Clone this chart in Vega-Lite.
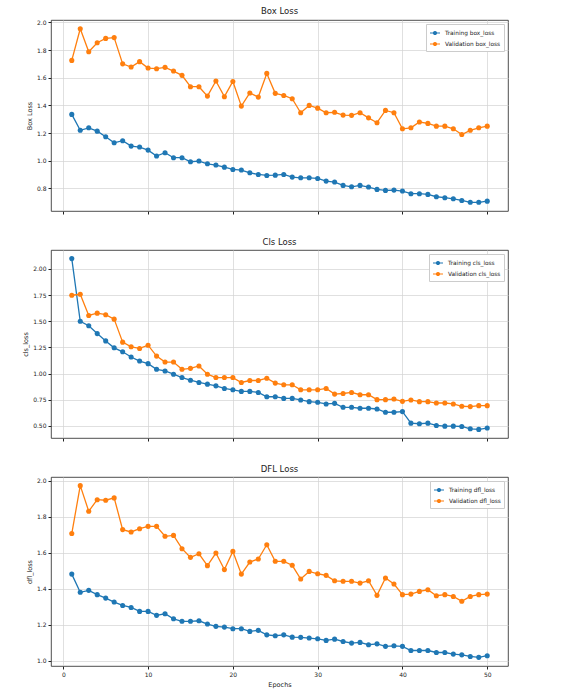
{
  "$schema": "https://vega.github.io/schema/vega-lite/v6.json",
  "background": "white",
  "padding": {"left": 22, "top": 6, "right": 4, "bottom": 4},
  "spacing": 22,
  "config": {
    "font": "DejaVu Sans",
    "view": {"stroke": "#222", "strokeWidth": 0.8},
    "axis": {"gridColor": "#d3d3d3", "gridWidth": 0.7, "labelFontSize": 6, "titleFontSize": 6.5, "titleFontWeight": "normal", "tickColor": "#222", "tickSize": 3, "domain": false, "labelColor": "#222", "titleColor": "#222", "labelPadding": 2, "titlePadding": 4},
    "title": {"fontSize": 8.5, "fontWeight": "normal", "color": "#222", "offset": 4},
    "legend": {"orient": "top-right", "offset": 4, "fillColor": "white", "strokeColor": "#ccc", "padding": 3, "labelFontSize": 5.8, "symbolType": "M-1,0H1M0.3,0A0.3,0.3,0,1,1,-0.3,0A0.3,0.3,0,1,1,0.3,0", "symbolSize": 100, "symbolStrokeWidth": 1.2, "rowPadding": 1, "title": null, "labelColor": "#222"}
  },
  "resolve": {"scale": {"color": "independent"}},
  "datasets": {
    "box": [
      {"epoch":1,"Training box_loss":1.335,"Validation box_loss":1.725},
      {"epoch":2,"Training box_loss":1.22,"Validation box_loss":1.954},
      {"epoch":3,"Training box_loss":1.238,"Validation box_loss":1.788},
      {"epoch":4,"Training box_loss":1.214,"Validation box_loss":1.853},
      {"epoch":5,"Training box_loss":1.173,"Validation box_loss":1.884},
      {"epoch":6,"Training box_loss":1.13,"Validation box_loss":1.89},
      {"epoch":7,"Training box_loss":1.145,"Validation box_loss":1.70},
      {"epoch":8,"Training box_loss":1.106,"Validation box_loss":1.677},
      {"epoch":9,"Training box_loss":1.099,"Validation box_loss":1.716},
      {"epoch":10,"Training box_loss":1.077,"Validation box_loss":1.67},
      {"epoch":11,"Training box_loss":1.034,"Validation box_loss":1.665},
      {"epoch":12,"Training box_loss":1.058,"Validation box_loss":1.675},
      {"epoch":13,"Training box_loss":1.022,"Validation box_loss":1.648},
      {"epoch":14,"Training box_loss":1.022,"Validation box_loss":1.617},
      {"epoch":15,"Training box_loss":0.993,"Validation box_loss":1.535},
      {"epoch":16,"Training box_loss":0.998,"Validation box_loss":1.535},
      {"epoch":17,"Training box_loss":0.978,"Validation box_loss":1.467},
      {"epoch":18,"Training box_loss":0.969,"Validation box_loss":1.576},
      {"epoch":19,"Training box_loss":0.954,"Validation box_loss":1.463},
      {"epoch":20,"Training box_loss":0.937,"Validation box_loss":1.573},
      {"epoch":21,"Training box_loss":0.933,"Validation box_loss":1.395},
      {"epoch":22,"Training box_loss":0.913,"Validation box_loss":1.49},
      {"epoch":23,"Training box_loss":0.901,"Validation box_loss":1.46},
      {"epoch":24,"Training box_loss":0.894,"Validation box_loss":1.631},
      {"epoch":25,"Training box_loss":0.896,"Validation box_loss":1.487},
      {"epoch":26,"Training box_loss":0.901,"Validation box_loss":1.472},
      {"epoch":27,"Training box_loss":0.882,"Validation box_loss":1.448},
      {"epoch":28,"Training box_loss":0.877,"Validation box_loss":1.347},
      {"epoch":29,"Training box_loss":0.877,"Validation box_loss":1.40},
      {"epoch":30,"Training box_loss":0.872,"Validation box_loss":1.38},
      {"epoch":31,"Training box_loss":0.853,"Validation box_loss":1.347},
      {"epoch":32,"Training box_loss":0.846,"Validation box_loss":1.35},
      {"epoch":33,"Training box_loss":0.822,"Validation box_loss":1.33},
      {"epoch":34,"Training box_loss":0.812,"Validation box_loss":1.328},
      {"epoch":35,"Training box_loss":0.822,"Validation box_loss":1.347},
      {"epoch":36,"Training box_loss":0.81,"Validation box_loss":1.31},
      {"epoch":37,"Training box_loss":0.793,"Validation box_loss":1.275},
      {"epoch":38,"Training box_loss":0.786,"Validation box_loss":1.364},
      {"epoch":39,"Training box_loss":0.788,"Validation box_loss":1.347},
      {"epoch":40,"Training box_loss":0.781,"Validation box_loss":1.231},
      {"epoch":41,"Training box_loss":0.762,"Validation box_loss":1.238},
      {"epoch":42,"Training box_loss":0.762,"Validation box_loss":1.28},
      {"epoch":43,"Training box_loss":0.757,"Validation box_loss":1.27},
      {"epoch":44,"Training box_loss":0.74,"Validation box_loss":1.25},
      {"epoch":45,"Training box_loss":0.733,"Validation box_loss":1.25},
      {"epoch":46,"Training box_loss":0.725,"Validation box_loss":1.231},
      {"epoch":47,"Training box_loss":0.713,"Validation box_loss":1.19},
      {"epoch":48,"Training box_loss":0.70,"Validation box_loss":1.22},
      {"epoch":49,"Training box_loss":0.70,"Validation box_loss":1.238},
      {"epoch":50,"Training box_loss":0.708,"Validation box_loss":1.25}
    ],
    "cls": [
      {"epoch":1,"Training cls_loss":2.098,"Validation cls_loss":1.748},
      {"epoch":2,"Training cls_loss":1.50,"Validation cls_loss":1.757},
      {"epoch":3,"Training cls_loss":1.457,"Validation cls_loss":1.555},
      {"epoch":4,"Training cls_loss":1.382,"Validation cls_loss":1.577},
      {"epoch":5,"Training cls_loss":1.312,"Validation cls_loss":1.562},
      {"epoch":6,"Training cls_loss":1.246,"Validation cls_loss":1.52},
      {"epoch":7,"Training cls_loss":1.208,"Validation cls_loss":1.30},
      {"epoch":8,"Training cls_loss":1.158,"Validation cls_loss":1.256},
      {"epoch":9,"Training cls_loss":1.12,"Validation cls_loss":1.24},
      {"epoch":10,"Training cls_loss":1.095,"Validation cls_loss":1.271},
      {"epoch":11,"Training cls_loss":1.041,"Validation cls_loss":1.167},
      {"epoch":12,"Training cls_loss":1.025,"Validation cls_loss":1.11},
      {"epoch":13,"Training cls_loss":0.994,"Validation cls_loss":1.11},
      {"epoch":14,"Training cls_loss":0.962,"Validation cls_loss":1.041},
      {"epoch":15,"Training cls_loss":0.937,"Validation cls_loss":1.05},
      {"epoch":16,"Training cls_loss":0.915,"Validation cls_loss":1.073},
      {"epoch":17,"Training cls_loss":0.899,"Validation cls_loss":0.994},
      {"epoch":18,"Training cls_loss":0.883,"Validation cls_loss":0.962},
      {"epoch":19,"Training cls_loss":0.858,"Validation cls_loss":0.962},
      {"epoch":20,"Training cls_loss":0.845,"Validation cls_loss":0.962},
      {"epoch":21,"Training cls_loss":0.83,"Validation cls_loss":0.915},
      {"epoch":22,"Training cls_loss":0.83,"Validation cls_loss":0.934},
      {"epoch":23,"Training cls_loss":0.82,"Validation cls_loss":0.934},
      {"epoch":24,"Training cls_loss":0.779,"Validation cls_loss":0.956},
      {"epoch":25,"Training cls_loss":0.779,"Validation cls_loss":0.909},
      {"epoch":26,"Training cls_loss":0.763,"Validation cls_loss":0.893},
      {"epoch":27,"Training cls_loss":0.763,"Validation cls_loss":0.893},
      {"epoch":28,"Training cls_loss":0.748,"Validation cls_loss":0.845},
      {"epoch":29,"Training cls_loss":0.732,"Validation cls_loss":0.845},
      {"epoch":30,"Training cls_loss":0.726,"Validation cls_loss":0.845},
      {"epoch":31,"Training cls_loss":0.71,"Validation cls_loss":0.858},
      {"epoch":32,"Training cls_loss":0.716,"Validation cls_loss":0.804},
      {"epoch":33,"Training cls_loss":0.678,"Validation cls_loss":0.81},
      {"epoch":34,"Training cls_loss":0.678,"Validation cls_loss":0.82},
      {"epoch":35,"Training cls_loss":0.669,"Validation cls_loss":0.798},
      {"epoch":36,"Training cls_loss":0.669,"Validation cls_loss":0.798},
      {"epoch":37,"Training cls_loss":0.662,"Validation cls_loss":0.751},
      {"epoch":38,"Training cls_loss":0.631,"Validation cls_loss":0.751},
      {"epoch":39,"Training cls_loss":0.631,"Validation cls_loss":0.757},
      {"epoch":40,"Training cls_loss":0.637,"Validation cls_loss":0.735},
      {"epoch":41,"Training cls_loss":0.527,"Validation cls_loss":0.748},
      {"epoch":42,"Training cls_loss":0.521,"Validation cls_loss":0.732},
      {"epoch":43,"Training cls_loss":0.527,"Validation cls_loss":0.732},
      {"epoch":44,"Training cls_loss":0.505,"Validation cls_loss":0.719},
      {"epoch":45,"Training cls_loss":0.498,"Validation cls_loss":0.719},
      {"epoch":46,"Training cls_loss":0.498,"Validation cls_loss":0.71},
      {"epoch":47,"Training cls_loss":0.495,"Validation cls_loss":0.688},
      {"epoch":48,"Training cls_loss":0.473,"Validation cls_loss":0.685},
      {"epoch":49,"Training cls_loss":0.467,"Validation cls_loss":0.694},
      {"epoch":50,"Training cls_loss":0.48,"Validation cls_loss":0.694}
    ],
    "dfl": [
      {"epoch":1,"Training dfl_loss":1.481,"Validation dfl_loss":1.706},
      {"epoch":2,"Training dfl_loss":1.38,"Validation dfl_loss":1.972},
      {"epoch":3,"Training dfl_loss":1.391,"Validation dfl_loss":1.83},
      {"epoch":4,"Training dfl_loss":1.367,"Validation dfl_loss":1.894},
      {"epoch":5,"Training dfl_loss":1.348,"Validation dfl_loss":1.891},
      {"epoch":6,"Training dfl_loss":1.326,"Validation dfl_loss":1.904},
      {"epoch":7,"Training dfl_loss":1.307,"Validation dfl_loss":1.728},
      {"epoch":8,"Training dfl_loss":1.296,"Validation dfl_loss":1.715},
      {"epoch":9,"Training dfl_loss":1.274,"Validation dfl_loss":1.733},
      {"epoch":10,"Training dfl_loss":1.274,"Validation dfl_loss":1.746},
      {"epoch":11,"Training dfl_loss":1.252,"Validation dfl_loss":1.746},
      {"epoch":12,"Training dfl_loss":1.261,"Validation dfl_loss":1.691},
      {"epoch":13,"Training dfl_loss":1.233,"Validation dfl_loss":1.696},
      {"epoch":14,"Training dfl_loss":1.219,"Validation dfl_loss":1.622},
      {"epoch":15,"Training dfl_loss":1.219,"Validation dfl_loss":1.574},
      {"epoch":16,"Training dfl_loss":1.222,"Validation dfl_loss":1.594},
      {"epoch":17,"Training dfl_loss":1.204,"Validation dfl_loss":1.528},
      {"epoch":18,"Training dfl_loss":1.191,"Validation dfl_loss":1.598},
      {"epoch":19,"Training dfl_loss":1.187,"Validation dfl_loss":1.506},
      {"epoch":20,"Training dfl_loss":1.178,"Validation dfl_loss":1.607},
      {"epoch":21,"Training dfl_loss":1.178,"Validation dfl_loss":1.481},
      {"epoch":22,"Training dfl_loss":1.163,"Validation dfl_loss":1.548},
      {"epoch":23,"Training dfl_loss":1.169,"Validation dfl_loss":1.565},
      {"epoch":24,"Training dfl_loss":1.144,"Validation dfl_loss":1.644},
      {"epoch":25,"Training dfl_loss":1.139,"Validation dfl_loss":1.552},
      {"epoch":26,"Training dfl_loss":1.144,"Validation dfl_loss":1.552},
      {"epoch":27,"Training dfl_loss":1.131,"Validation dfl_loss":1.53},
      {"epoch":28,"Training dfl_loss":1.13,"Validation dfl_loss":1.454},
      {"epoch":29,"Training dfl_loss":1.126,"Validation dfl_loss":1.496},
      {"epoch":30,"Training dfl_loss":1.122,"Validation dfl_loss":1.483},
      {"epoch":31,"Training dfl_loss":1.113,"Validation dfl_loss":1.474},
      {"epoch":32,"Training dfl_loss":1.12,"Validation dfl_loss":1.444},
      {"epoch":33,"Training dfl_loss":1.107,"Validation dfl_loss":1.441},
      {"epoch":34,"Training dfl_loss":1.098,"Validation dfl_loss":1.441},
      {"epoch":35,"Training dfl_loss":1.102,"Validation dfl_loss":1.431},
      {"epoch":36,"Training dfl_loss":1.089,"Validation dfl_loss":1.444},
      {"epoch":37,"Training dfl_loss":1.094,"Validation dfl_loss":1.363},
      {"epoch":38,"Training dfl_loss":1.08,"Validation dfl_loss":1.459},
      {"epoch":39,"Training dfl_loss":1.083,"Validation dfl_loss":1.426},
      {"epoch":40,"Training dfl_loss":1.08,"Validation dfl_loss":1.367},
      {"epoch":41,"Training dfl_loss":1.057,"Validation dfl_loss":1.37},
      {"epoch":42,"Training dfl_loss":1.057,"Validation dfl_loss":1.385},
      {"epoch":43,"Training dfl_loss":1.057,"Validation dfl_loss":1.394},
      {"epoch":44,"Training dfl_loss":1.046,"Validation dfl_loss":1.361},
      {"epoch":45,"Training dfl_loss":1.046,"Validation dfl_loss":1.367},
      {"epoch":46,"Training dfl_loss":1.037,"Validation dfl_loss":1.357},
      {"epoch":47,"Training dfl_loss":1.033,"Validation dfl_loss":1.33},
      {"epoch":48,"Training dfl_loss":1.024,"Validation dfl_loss":1.357},
      {"epoch":49,"Training dfl_loss":1.019,"Validation dfl_loss":1.367},
      {"epoch":50,"Training dfl_loss":1.028,"Validation dfl_loss":1.37}
    ]
  },
  "vconcat": [
    {
      "title": "Box Loss",
      "width": 457, "height": 191,
      "data": {"name": "box"},
      "transform": [{"fold": ["Training box_loss", "Validation box_loss"], "as": ["series", "value"]}],
      "mark": {"type": "line", "strokeWidth": 1.3, "point": {"filled": true, "size": 26}},
      "encoding": {
        "x": {"field": "epoch", "type": "quantitative", "scale": {"domain": [-1.45, 52.45], "nice": false, "zero": false}, "axis": {"values": [0,10,20,30,40,50], "labels": false, "title": null}},
        "y": {"field": "value", "type": "quantitative", "scale": {"domain": [0.637, 2.017], "nice": false, "zero": false}, "axis": {"values": [0.8,1.0,1.2,1.4,1.6,1.8,2.0], "format": ".1f", "title": "Box Loss"}},
        "color": {"field": "series", "type": "nominal", "scale": {"domain": ["Training box_loss", "Validation box_loss"], "range": ["#1f77b4", "#ff7f0e"]}}
      }
    },
    {
      "title": "Cls Loss",
      "width": 457, "height": 188,
      "data": {"name": "cls"},
      "transform": [{"fold": ["Training cls_loss", "Validation cls_loss"], "as": ["series", "value"]}],
      "mark": {"type": "line", "strokeWidth": 1.3, "point": {"filled": true, "size": 26}},
      "encoding": {
        "x": {"field": "epoch", "type": "quantitative", "scale": {"domain": [-1.45, 52.45], "nice": false, "zero": false}, "axis": {"values": [0,10,20,30,40,50], "labels": false, "title": null}},
        "y": {"field": "value", "type": "quantitative", "scale": {"domain": [0.385, 2.18], "nice": false, "zero": false}, "axis": {"values": [0.5,0.75,1.0,1.25,1.5,1.75,2.0], "format": ".2f", "title": "cls_loss"}},
        "color": {"field": "series", "type": "nominal", "scale": {"domain": ["Training cls_loss", "Validation cls_loss"], "range": ["#1f77b4", "#ff7f0e"]}}
      }
    },
    {
      "title": "DFL Loss",
      "width": 457, "height": 189,
      "data": {"name": "dfl"},
      "transform": [{"fold": ["Training dfl_loss", "Validation dfl_loss"], "as": ["series", "value"]}],
      "mark": {"type": "line", "strokeWidth": 1.3, "point": {"filled": true, "size": 26}},
      "encoding": {
        "x": {"field": "epoch", "type": "quantitative", "scale": {"domain": [-1.45, 52.45], "nice": false, "zero": false}, "axis": {"values": [0,10,20,30,40,50], "format": "d", "title": "Epochs"}},
        "y": {"field": "value", "type": "quantitative", "scale": {"domain": [0.971, 2.02], "nice": false, "zero": false}, "axis": {"values": [1.0,1.2,1.4,1.6,1.8,2.0], "format": ".1f", "title": "dfl_loss"}},
        "color": {"field": "series", "type": "nominal", "scale": {"domain": ["Training dfl_loss", "Validation dfl_loss"], "range": ["#1f77b4", "#ff7f0e"]}}
      }
    }
  ]
}
